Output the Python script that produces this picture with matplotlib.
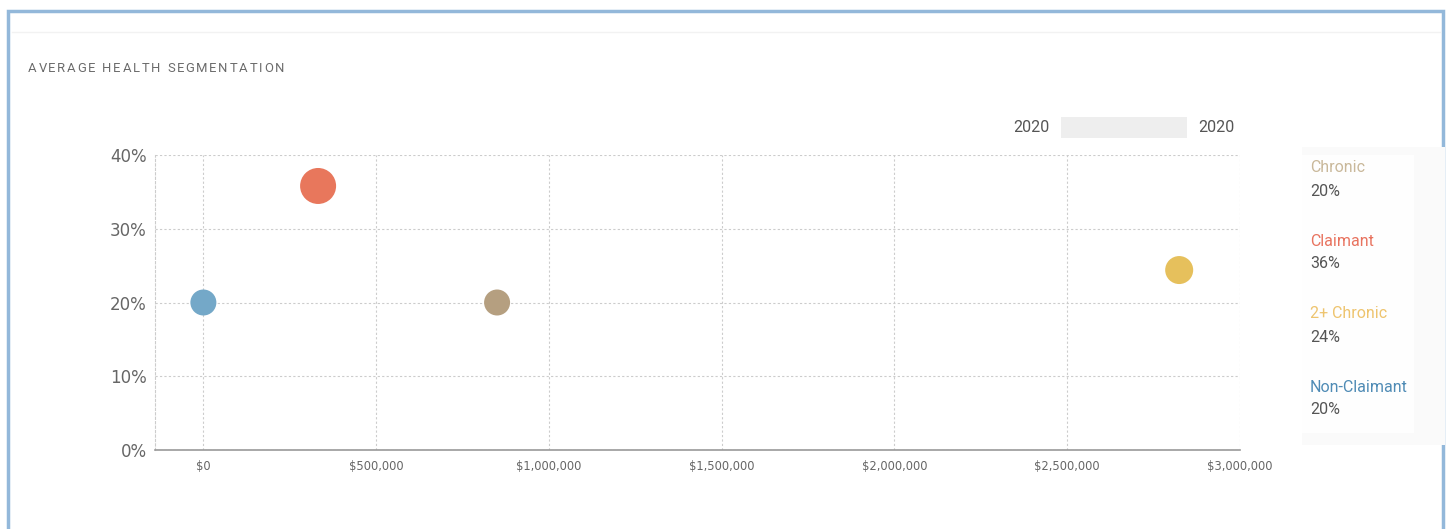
import matplotlib.pyplot as plt
from matplotlib.patches import Rectangle
from matplotlib.ticker import FuncFormatter

# segment data
segments = ['Chronic', 'Claimant', '2+ Chronic', 'Non-Claimant']
avg_cost = [850000, 332000, 2824000, 0]
share = [0.20, 0.358, 0.244, 0.20]
bubble = [26, 36, 28, 26]          # diameter in px
legend_pct = ['20%', '36%', '24%', '20%']
dot_colors = ['#b59f80', '#e8775c', '#e6c05c', '#74a8c8']
text_colors = ['#c9b89a', '#e8735f', '#eec46e', '#4f8bb5']
x_ticks = [0, 500000, 1000000, 1500000, 2000000, 2500000, 3000000]
y_ticks = [0, 0.1, 0.2, 0.3, 0.4]
title = 'AVERAGE HEALTH SEGMENTATION'

W, H = 1450, 529
fig = plt.figure(figsize=(W / 100, H / 100), dpi=100)
fig.patch.set_facecolor('white')
renderer = fig.canvas.get_renderer()

def fx(px):
    return px / W

def fy(py):
    return 1 - py / H

# outer frame and header
fig.patches.append(Rectangle((fx(8), fy(540)), fx(1435), 1, transform=fig.transFigure,
                             fill=False, ec='#93b8da', lw=2.5))
fig.lines.append(plt.Line2D([fx(12), fx(1440)], [fy(32), fy(32)], transform=fig.transFigure,
                            color='#f2f2f2', lw=1))

# title with letter spacing, one char at a time
x = 28
for ch in title:
    t = fig.text(fx(x), fy(69), ch, fontsize=9.4, color='#6b6b6b', va='center', ha='left',
                 family='Roboto')
    w = t.get_window_extent(renderer).width if ch != ' ' else 3.5
    x += w + 1.7

# year slider
fig.text(fx(1050), fy(127), '2020', fontsize=11.5, color='#555555', va='center', ha='right', family='Roboto')
fig.patches.append(Rectangle((fx(1061), fy(138)), fx(126), (138 - 117) / H,
                             transform=fig.transFigure, color='#eeeeee', lw=0))
fig.text(fx(1198), fy(127), '2020', fontsize=11.5, color='#555555', va='center', ha='left', family='Roboto')

# legend panel
fig.patches.append(Rectangle((fx(1302), fy(445)), fx(143), (445 - 147) / H,
                             transform=fig.transFigure, color='#fafafa', lw=0))
fig.patches.append(Rectangle((fx(1302), fy(433)), fx(112), (433 - 155) / H,
                             transform=fig.transFigure, color='#fefefe', lw=0))
legend_y = [168, 241, 314, 387]
for name, pct, c, ly in zip(segments, legend_pct, text_colors, legend_y):
    fig.text(fx(1310), fy(ly), name, fontsize=11.5, color=c, va='center', ha='left', family='Roboto')
    fig.text(fx(1310), fy(ly + 23), pct, fontsize=11.5, color='#555555', va='center', ha='left', family='Roboto')

# main chart
ax = fig.add_axes([fx(155), fy(450), fx(1240 - 155), (450 - 155) / H])
sizes = [(d * 72 / 100) ** 2 for d in bubble]
ax.scatter(avg_cost, share, s=sizes, c=dot_colors, linewidths=0, zorder=3)

ax.set_xlim(-140000, 3000000)
ax.set_ylim(0, 0.4)
ax.set_xticks(x_ticks)
ax.set_yticks(y_ticks)
ax.xaxis.set_major_formatter(FuncFormatter(lambda v, p: '${:,.0f}'.format(v)))
ax.yaxis.set_major_formatter(FuncFormatter(lambda v, p: '{:.0f}%'.format(v * 100)))
ax.tick_params(axis='x', length=0, labelsize=8.3, labelcolor='#666666', pad=7)
ax.tick_params(axis='y', length=0, labelsize=12, labelcolor='#666666', pad=6)
for lab in ax.get_xticklabels() + ax.get_yticklabels():
    lab.set_family('DejaVu Sans')
ax.grid(True, linestyle=(0, (2, 2)), color='#cccccc', lw=0.8, zorder=0)

for side in ['top', 'right']:
    ax.spines[side].set_visible(False)
ax.spines['left'].set_linestyle((0, (2, 2)))
ax.spines['left'].set_color('#cccccc')
ax.spines['left'].set_linewidth(0.8)
ax.spines['bottom'].set_color('#999999')
ax.spines['bottom'].set_linewidth(1.2)

fig.savefig('out.png', dpi=100)
